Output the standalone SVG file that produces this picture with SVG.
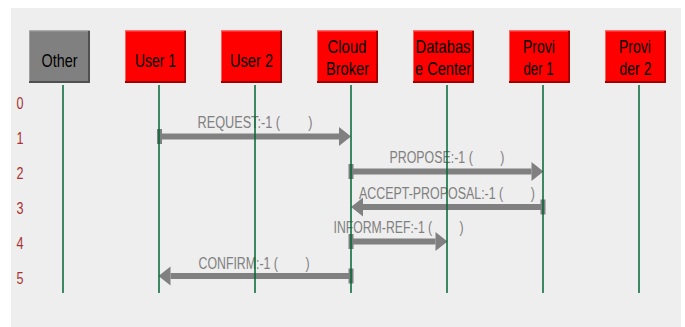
<svg xmlns="http://www.w3.org/2000/svg" width="685" height="327" viewBox="0 0 685 327">
<style>
.bg{fill:#eeeeee}
.box{fill:#ff0000}
.box.other{fill:#808080}
.edge{fill:none;stroke:#a00000;stroke-width:2}
.edge.other{stroke:#505050}
.hl{fill:none;stroke:#ff6060;stroke-width:1}
.hl.other{stroke:#a0a0a0}
.name{font-family:"Liberation Sans",Arial,sans-serif;font-size:19px;fill:#000;text-anchor:middle}
.life{stroke:#006633;stroke-width:1.5}
.row{font-family:"Liberation Sans",Arial,sans-serif;font-size:16px;fill:#a83232;text-anchor:middle}
.msg{fill:none;stroke:#808080;stroke-width:6;marker-start:url(#tick);marker-end:url(#head)}
.lbl{font-family:"Liberation Sans",Arial,sans-serif;font-size:16px;fill:#808080;text-anchor:middle;white-space:pre}
</style>
<defs>
<marker id="head" markerUnits="userSpaceOnUse" markerWidth="14" markerHeight="20" refX="0" refY="9.5" orient="auto" overflow="visible">
<path d="M0,0 L12,9.5 L0,19 z" fill="#808080"/>
</marker>
<marker id="tick" markerUnits="userSpaceOnUse" markerWidth="6" markerHeight="16" refX="2.5" refY="7.5" orient="auto" overflow="visible">
<rect x="0" y="0" width="5" height="15" fill="#808080"/>
</marker>
</defs>
<rect class="bg" x="11" y="8" width="670" height="319"/>
<g id="rows">
<text class="row" x="20" y="109" textLength="7" lengthAdjust="spacingAndGlyphs">0</text>
<text class="row" x="20" y="144" textLength="7" lengthAdjust="spacingAndGlyphs">1</text>
<text class="row" x="20" y="179" textLength="7" lengthAdjust="spacingAndGlyphs">2</text>
<text class="row" x="20" y="214" textLength="7" lengthAdjust="spacingAndGlyphs">3</text>
<text class="row" x="20" y="249" textLength="7" lengthAdjust="spacingAndGlyphs">4</text>
<text class="row" x="20" y="284" textLength="7" lengthAdjust="spacingAndGlyphs">5</text>
</g>
<g id="connectors">
<path class="msg" d="M159.5,136.5 H339"/>
<text class="lbl" x="255" y="128" textLength="115" lengthAdjust="spacingAndGlyphs" xml:space="preserve">REQUEST:-1 (        )</text>
<path class="msg" d="M351,171.5 H531.5"/>
<text class="lbl" x="447" y="163" textLength="115" lengthAdjust="spacingAndGlyphs" xml:space="preserve">PROPOSE:-1 (        )</text>
<path class="msg" d="M543,207 H363"/>
<text class="lbl" x="447" y="199" textLength="176" lengthAdjust="spacingAndGlyphs" xml:space="preserve">ACCEPT-PROPOSAL:-1 (        )</text>
<path class="msg" d="M351,241.5 H435.5"/>
<text class="lbl" x="398.5" y="233" textLength="130" lengthAdjust="spacingAndGlyphs" xml:space="preserve">INFORM-REF:-1 (        )</text>
<path class="msg" d="M351,276 H170.5"/>
<text class="lbl" x="254" y="269" textLength="111" lengthAdjust="spacingAndGlyphs" xml:space="preserve">CONFIRM:-1 (        )</text>
</g>
<g id="other">
<rect class="box other" x="29" y="30.5" width="61" height="52"/>
<path class="hl other" d="M29.5,82 V31 H89"/>
<path class="edge other" d="M89,31 V82 H29"/>
<text class="name" x="59.5" y="66.5" textLength="36" lengthAdjust="spacingAndGlyphs">Other</text>
<line class="life" x1="63" y1="85" x2="63" y2="293"/>
</g>
<g id="user1">
<rect class="box" x="125" y="30.5" width="61" height="52"/>
<path class="hl" d="M125.5,82 V31 H185"/>
<path class="edge" d="M185,31 V82 H125"/>
<text class="name" x="155.5" y="66.5" textLength="41" lengthAdjust="spacingAndGlyphs">User 1</text>
<line class="life" x1="159" y1="85" x2="159" y2="293"/>
</g>
<g id="user2">
<rect class="box" x="221" y="30.5" width="61" height="52"/>
<path class="hl" d="M221.5,82 V31 H281"/>
<path class="edge" d="M281,31 V82 H221"/>
<text class="name" x="251.5" y="66.5" textLength="43" lengthAdjust="spacingAndGlyphs">User 2</text>
<line class="life" x1="255" y1="85" x2="255" y2="293"/>
</g>
<g id="cloud-broker">
<rect class="box" x="317" y="30.5" width="61" height="52"/>
<path class="hl" d="M317.5,82 V31 H377"/>
<path class="edge" d="M377,31 V82 H317"/>
<text class="name" x="347" y="53" textLength="39" lengthAdjust="spacingAndGlyphs">Cloud</text>
<text class="name" x="347.5" y="75" textLength="43" lengthAdjust="spacingAndGlyphs">Broker</text>
<line class="life" x1="351" y1="85" x2="351" y2="293"/>
</g>
<g id="database-center">
<rect class="box" x="413" y="30.5" width="61" height="52"/>
<path class="hl" d="M413.5,82 V31 H473"/>
<path class="edge" d="M473,31 V82 H413"/>
<text class="name" x="443" y="53" textLength="55" lengthAdjust="spacingAndGlyphs">Databas</text>
<text class="name" x="443" y="75" textLength="56" lengthAdjust="spacingAndGlyphs">e Center</text>
<line class="life" x1="447" y1="85" x2="447" y2="293"/>
</g>
<g id="provider1">
<rect class="box" x="509" y="30.5" width="61" height="52"/>
<path class="hl" d="M509.5,82 V31 H569"/>
<path class="edge" d="M569,31 V82 H509"/>
<text class="name" x="539" y="53" textLength="32" lengthAdjust="spacingAndGlyphs">Provi</text>
<text class="name" x="538.5" y="75" textLength="30" lengthAdjust="spacingAndGlyphs">der 1</text>
<line class="life" x1="543" y1="85" x2="543" y2="293"/>
</g>
<g id="provider2">
<rect class="box" x="605" y="30.5" width="61" height="52"/>
<path class="hl" d="M605.5,82 V31 H665"/>
<path class="edge" d="M665,31 V82 H605"/>
<text class="name" x="635" y="53" textLength="32" lengthAdjust="spacingAndGlyphs">Provi</text>
<text class="name" x="635.5" y="75" textLength="32" lengthAdjust="spacingAndGlyphs">der 2</text>
<line class="life" x1="639" y1="85" x2="639" y2="293"/>
</g>
</svg>
